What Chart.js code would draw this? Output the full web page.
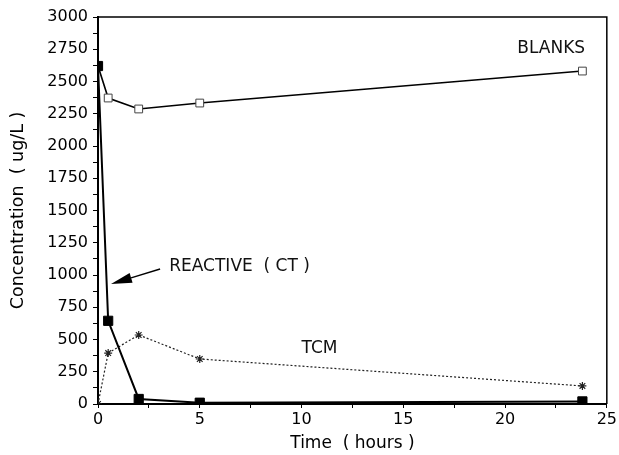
<!DOCTYPE html>
<html>
<head>
<meta charset="utf-8">
<script src="https://cdn.jsdelivr.net/npm/chart.js@4"></script>
<style>
  body { margin: 0; background: #fff; }
</style>
</head>
<body>
<canvas id="chart" width="619" height="455"></canvas>
<script>
// data
const blanksTime = [0, 0.5, 2, 5, 23.8];
const blanksConc = [2620, 2372, 2287, 2333, 2581];
const reactiveTime = [0, 0.5, 2, 5, 23.8];
const reactiveConc = [2620, 645, 39, 10, 20];
const tcmTime = [0, 0.5, 2, 5, 23.8];
const tcmConc = [0, 395, 535, 349, 140];

const xTickLabels = [0, 5, 10, 15, 20, 25];
const yTickLabels = [0, 250, 500, 750, 1000, 1250, 1500, 1750, 2000, 2250, 2500, 2750, 3000];

const FONT = "'DejaVu Sans', sans-serif";

function pts(xs, ys) {
  return xs.map((x, i) => ({x: x, y: ys[i]}));
}

// frame on top/right plus the text labels and arrow
const decorations = {
  id: 'decorations',
  afterDatasetsDraw(chart) {
    const ctx = chart.ctx;
    const a = chart.chartArea;
    const xs = chart.scales.x, ys = chart.scales.y;
    ctx.save();
    ctx.strokeStyle = '#000';
    ctx.lineWidth = 1.5;
    ctx.beginPath();
    ctx.moveTo(a.left, a.top);
    ctx.lineTo(a.right, a.top);
    ctx.lineTo(a.right, a.bottom);
    ctx.stroke();

    ctx.fillStyle = '#111';
    ctx.font = '17px ' + FONT;
    ctx.textBaseline = 'middle';
    ctx.textAlign = 'left';
    ctx.fillText('BLANKS', xs.getPixelForValue(20.6), ys.getPixelForValue(2752));
    ctx.fillText('REACTIVE  ( CT )', xs.getPixelForValue(3.5), ys.getPixelForValue(1062));
    ctx.fillText('TCM', xs.getPixelForValue(10.0), ys.getPixelForValue(426));

    // arrow to the reactive curve
    const x0 = xs.getPixelForValue(3.05), y0 = ys.getPixelForValue(1047);
    const x1 = xs.getPixelForValue(0.64), y1 = ys.getPixelForValue(930);
    const ang = Math.atan2(y1 - y0, x1 - x0);
    const len = 21, half = 5;
    const bx = x1 - len * Math.cos(ang), by = y1 - len * Math.sin(ang);
    ctx.lineWidth = 1.5;
    ctx.beginPath();
    ctx.moveTo(x0, y0);
    ctx.lineTo(bx, by);
    ctx.stroke();
    ctx.beginPath();
    ctx.moveTo(x1, y1);
    ctx.lineTo(bx + half * Math.sin(ang), by - half * Math.cos(ang));
    ctx.lineTo(bx - half * Math.sin(ang), by + half * Math.cos(ang));
    ctx.closePath();
    ctx.fillStyle = '#000';
    ctx.fill();
    ctx.restore();
  }
};

new Chart(document.getElementById('chart'), {
  type: 'scatter',
  data: {
    datasets: [
      {
        label: 'REACTIVE (CT)',
        data: pts(reactiveTime, reactiveConc),
        showLine: true,
        borderColor: '#000',
        borderWidth: 2,
        backgroundColor: '#000',
        pointStyle: 'rect',
        pointRadius: 6.5,
        pointBorderWidth: 1,
        order: 0
      },
      {
        label: 'BLANKS',
        data: pts(blanksTime, blanksConc),
        showLine: true,
        borderColor: '#000',
        borderWidth: 1.6,
        backgroundColor: '#fff',
        pointBorderColor: '#444',
        pointStyle: 'rect',
        pointRadius: 5.5,
        pointBorderWidth: 1,
        order: 1
      },
      {
        label: 'TCM',
        data: pts(tcmTime, tcmConc),
        showLine: true,
        borderColor: '#222',
        borderWidth: 1.2,
        borderDash: [2, 2],
        backgroundColor: '#000',
        pointStyle: 'star',
        pointRadius: 4,
        pointBorderWidth: 1.2,
        order: 2
      }
    ]
  },
  options: {
    responsive: false,
    animation: false,
    devicePixelRatio: 1,
    layout: { padding: { left: 0, right: 11, top: 17, bottom: 0 } },
    plugins: {
      legend: { display: false },
      tooltip: { enabled: false }
    },
    scales: {
      x: {
        type: 'linear',
        min: 0,
        max: 25,
        afterFit(scale) { scale.height = 51; },
        border: { display: true, color: '#000', width: 2 },
        grid: { drawOnChartArea: false, drawTicks: true, tickLength: 4, color: '#000' },
        ticks: {
          stepSize: 2.5,
          autoSkip: false,
          maxRotation: 0,
          padding: 2,
          color: '#000',
          font: { family: FONT, size: 16 },
          callback: v => xTickLabels.includes(v) ? String(v) : ''
        },
        title: {
          display: true,
          text: 'Time  ( hours )',
          color: '#000',
          font: { family: FONT, size: 17 },
          padding: { top: 0, bottom: 1 }
        }
      },
      y: {
        type: 'linear',
        min: 0,
        max: 3000,
        afterFit(scale) { scale.width = 98; },
        border: { display: true, color: '#000', width: 2 },
        grid: { drawOnChartArea: false, drawTicks: true, tickLength: 5, color: '#000' },
        ticks: {
          stepSize: 125,
          autoSkip: false,
          padding: 5,
          color: '#000',
          font: { family: FONT, size: 16 },
          callback: v => yTickLabels.includes(v) ? String(v) : ''
        },
        title: {
          display: true,
          text: 'Concentration  ( ug/L )',
          color: '#000',
          font: { family: FONT, size: 17.5 },
          padding: { top: 8, bottom: 0 }
        }
      }
    }
  },
  plugins: [decorations]
});
</script>
</body>
</html>
